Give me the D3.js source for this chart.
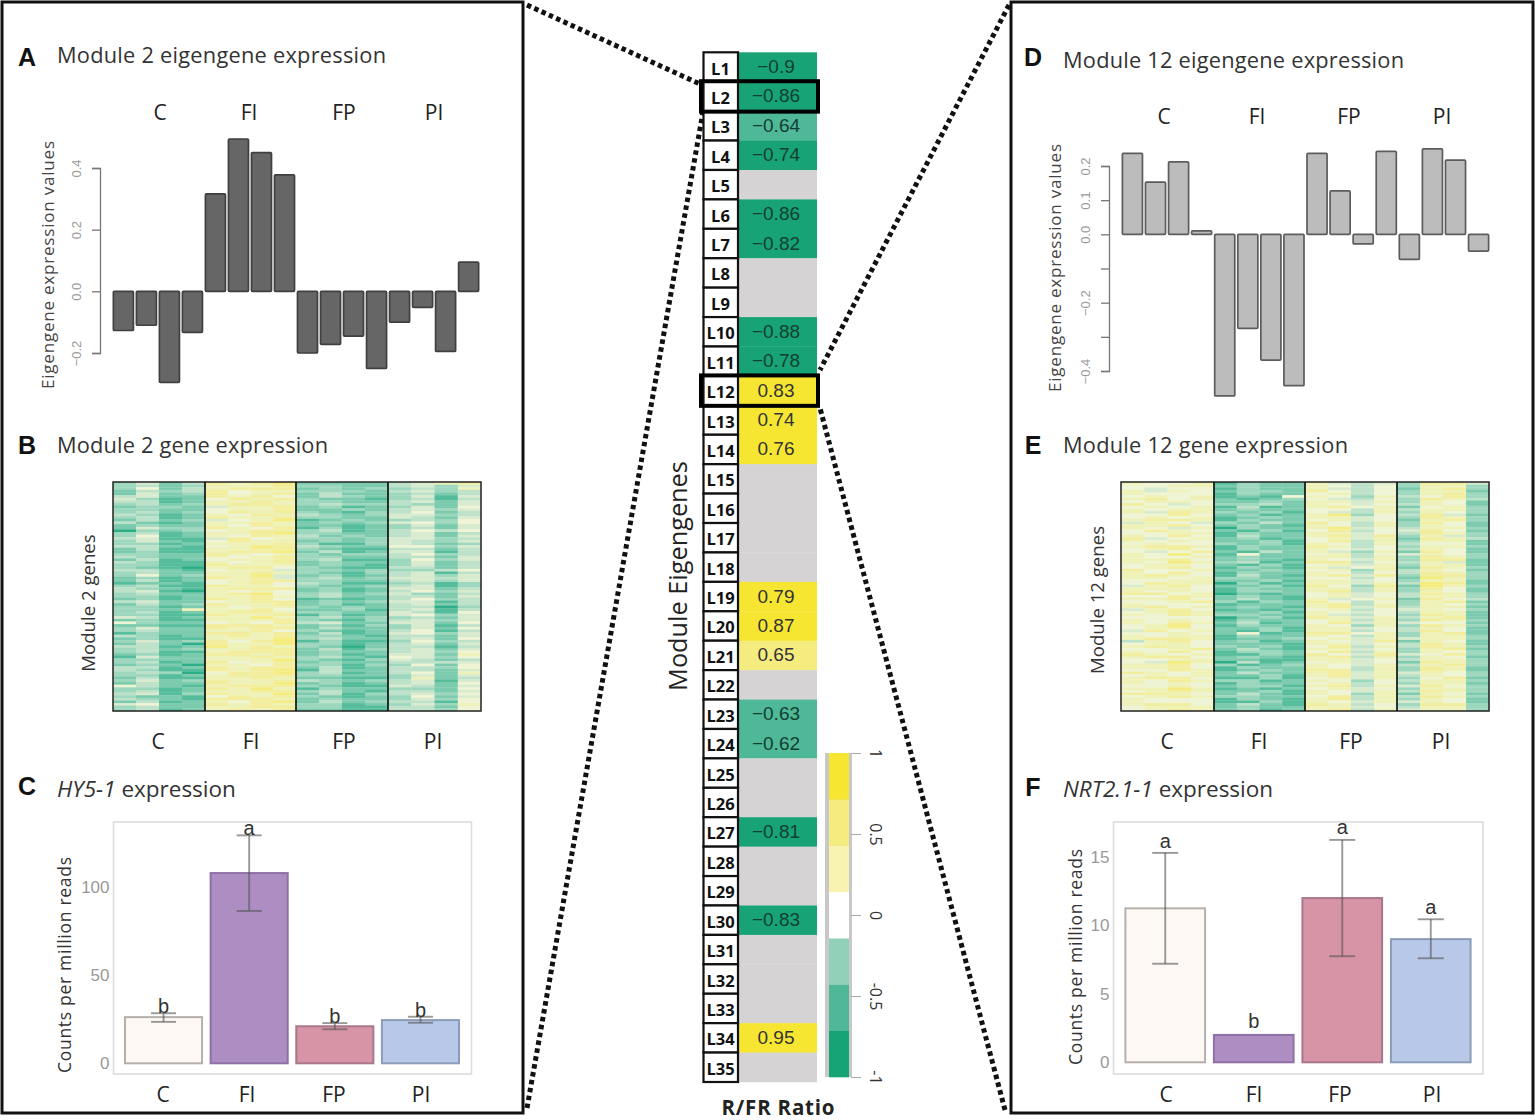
<!DOCTYPE html>
<html><head><meta charset="utf-8">
<script src="https://cdn.jsdelivr.net/npm/d3@7/dist/d3.min.js"></script>
<style>html,body{margin:0;background:#fff}svg{display:block}</style></head>
<body><svg id="c" width="1535" height="1120"></svg>
<script>
const groups=["C","FI","FP","PI"];
const rowNames=d3.range(1,36).map(i=>"L"+i);
const ratio=[-0.9,-0.86,-0.64,-0.74,null,-0.86,-0.82,null,null,-0.88,-0.78,0.83,0.74,0.76,null,null,null,null,0.79,0.87,0.65,null,-0.63,-0.62,null,null,-0.81,null,null,-0.83,null,null,null,0.95,null];
const binColors=["#18a376","#4fb898","#93d0ba","#ffffff","#f8f3b0","#f5ec80","#f6e632"];
const eigen2=[-0.127,-0.11,-0.295,-0.133,0.316,0.494,0.45,0.378,-0.2,-0.172,-0.145,-0.25,-0.10,-0.052,-0.195,0.095];
const eigen12=[0.237,0.153,0.212,0.01,-0.473,-0.275,-0.368,-0.443,0.237,0.127,-0.028,0.243,-0.073,0.25,0.217,-0.049];
const hy5={mean:[26.2,107.9,21,24.5],hi:[28.4,129.3,22.8,26.4],lo:[23.5,86.4,19.3,23],sig:["b","a","b","b"]};
const nrt={mean:[11.25,2.0,12,9.0],hi:[15.3,null,16.25,10.45],lo:[7.2,null,7.75,7.6],sig:["a","b","a","a"]};
const heat2A=`3524 8789 2222 4578|3624 7888 2323 3437|2434 8677 3332 4534|4522 8786 2432 3515|5312 6878 3221 3414|3423 7887 3433 4325|2332 5778 2312 3526|3423 6878 3213 4624|4312 7687 4323 5534|2423 5679 1232 3436|4212 7787 2323 5636|2533 8768 1312 3425|0323 6788 3412 4646|3612 7687 4232 4525|4511 5867 3323 5534|3312 7778 3113 5423|4421 6798 4322 6635|2311 7889 2412 5514|3322 8767 3233 4634|2412 6778 3411 3635|4311 7678 2322 3524|3210 7886 3211 4424|4421 6775 3323 3346|3623 7795 2312 4535|2312 8785 3423 5545|1221 6786 4311 3413|3411 8776 3223 4513|4510 7676 2312 4635|3422 7896 3423 5324|2312 8786 1212 4634|4522 6788 2323 5514|3312 7677 3232 4403|3327 7786 2231 4514|3311 8778 1312 5635|5412 7797 3423 3425|6322 6768 4522 5526|2211 8887 2313 3514|3422 7786 3212 4614|1322 8878 2412 5635|2311 7779 3422 4526|3523 8689 1311 3634|4412 9787 3202 4414|3423 7788 2413 4525|2312 8878 2312 5527|1522 7787 3421 6536|3412 8678 2322 4445|2320 7768 3313 3626|4311 8789 1422 4425|3430 6889 3412 4627|2411 7787 2211 3724|3523 8778 4323 4515|6421 7888 3211 5425|3312 8797 1322 3326|4513 8779 2413 4536|3221 6878 3212 3625|2412 7689 2423 4416|5622 8787 3312 3537|3412 7878 2211 4436`.split("|");
const heat2B=`3423 7778 3322 4535|2523 8678 2422 3424|4412 7787 3322 4525|3322 6778 2232 4535|3412 8778 3322 5425|2322 7687 2212 3525|3412 7789 3322 4524|3521 6877 2323 5435|2411 7788 3211 4424|4322 7678 3322 4425|3311 8777 2321 3524|3422 7787 3213 4514|2412 6788 3322 4535|4321 7888 2312 5524|3312 7787 3422 4425|2423 8778 2312 4524|3412 7887 3322 5416|2311 7778 3213 4535|3522 8788 2422 3526|4312 7878 3321 4425|2420 8779 3312 4525|3411 7888 2322 4536|3322 7779 3213 5424|4412 8788 2412 4436|3312 7888 3322 3525|2422 8779 2312 4526|3412 7788 3421 4425|4321 8887 2322 3536|3422 7788 3311 4426`.split("|");
const heat12A=`7667 1322 7545 3885|6566 1322 7546 2783|7576 2332 8646 3772|6767 1216 7637 4683|7867 2123 6546 3874|8656 3342 7656 4762|6767 1412 7867 2673|7587 3231 6547 3763|6686 2312 7936 4852|7887 1322 6756 2783|5765 3242 8647 3862|7657 0322 7956 4773|6876 2131 6846 5862|7686 1422 7858 3753|8567 2312 6757 2874|6766 3231 7647 4662|7887 1322 8746 3773|6568 2142 7537 2862|7696 1622 6746 5763|7786 2321 7657 3882|7697 3412 8846 4752|6786 1321 7567 2873|8667 2232 6737 4762|7876 1421 7858 3883|7767 3322 6646 2973|6877 0312 7757 4982|5786 2231 8638 2973|7676 1332 7847 3762|8867 0212 6756 4873|7786 2421 7567 2864|6678 3132 8646 3782|7867 2321 7857 4772|5786 1212 6746 5763|7687 3322 7546 3872|6666 0231 8757 4782|7687 2412 6857 5662|6796 1322 7637 3873|5867 2131 7746 4862|6676 2612 8867 3782|7887 1223 6757 5773|4786 2312 7658 2762|7876 3231 6847 4873|6678 2421 7756 3782|8767 1132 8658 5683|7886 2321 7847 3762|6597 0412 6756 2873|7786 3123 7657 4783|6687 1232 8847 3872|8767 2422 7857 5763|7886 1131 6757 3682|7687 3312 7636 4773|6676 2331 7847 5863|7797 1212 6756 3773|8876 2421 7637 2762|6787 3322 6847 4873|7666 1131 7657 5762|7886 2421 8746 3883|6787 2312 7847 5773`.split("|");
const heat12B=`6677 2322 7646 3773|7666 1322 6746 3783|6776 2232 7757 3762|7677 2322 6647 4773|6767 1232 7756 3873|7786 2321 7647 3762|6677 1322 7756 4873|7676 2231 6847 3772|6786 1322 7656 4762|7667 2322 7747 3873|6776 2131 6757 3772|7686 1322 7646 4873|6677 2231 7756 3772|7776 1322 7747 3862|6687 2321 6756 4773|7666 1222 7847 3763|6787 2231 7656 4772|7676 1322 6747 3873|6786 2231 7756 4762|7677 1322 7647 3773|6776 2221 7756 4872|7686 1332 6847 3763|6677 2211 7756 4773|7786 1322 7647 3872|6767 2231 7857 4763|7676 1322 6746 3772|6787 2231 7657 4873|7666 1321 7847 3762|6777 2322 7756 4773`.split("|");
// rows A and B alternate down the heatmap
function weave(a,b){const out=[];a.forEach((r,i)=>{out.push(r);if(i%2===0&&b[i/2])out.push(b[i/2]);});return out;}

const SANS='"Open Sans",sans-serif', ARIAL='"Liberation Sans",Arial,sans-serif';
const svg=d3.select("#c");
const defs=svg.append("defs");
defs.append("filter").attr("id","soft").attr("x","-5%").attr("y","-5%").attr("width","110%").attr("height","110%")
  .append("feGaussianBlur").attr("stdDeviation",0.6);

function txt(sel,x,y,s,o={}){
  const t=sel.append("text").attr("x",x).attr("y",y).text(s)
   .attr("font-family",o.font||SANS).attr("font-size",o.size||20).attr("fill",o.fill||"#222")
   .attr("text-anchor",o.anchor||"middle").attr("font-weight",o.weight||400).attr("dominant-baseline","central");
  if(o.rot!=null) t.attr("transform",`rotate(${o.rot} ${x} ${y})`);
  if(o.len) t.attr("textLength",o.len).attr("lengthAdjust","spacing");
  return t;
}
// dotted connectors
const dots=[[527,5,700,84],[527,1108,703,112],[1009,5,820,370],[1005,1110,820,408]];
svg.selectAll("line.dot").data(dots).join("line").attr("class","dot")
 .attr("x1",d=>d[0]).attr("y1",d=>d[1]).attr("x2",d=>d[2]).attr("y2",d=>d[3])
 .attr("stroke","#111").attr("stroke-width",5).attr("stroke-dasharray","4.5 3.5");
// panels
[[2,523],[1011,1533]].forEach(([a,b])=>svg.append("rect").attr("x",a).attr("y",2).attr("width",b-a).attr("height",1111)
  .attr("fill","#fff").attr("stroke","#111").attr("stroke-width",3));
svg.selectAll("line.dot").raise();

// ---- centre column
const rowY=d3.scaleBand().domain(rowNames).range([52.3,1082]);
const cellCol=d3.scaleQuantize().domain([-1,1]).range(binColors);
const mid=svg.append("g");
mid.selectAll("rect.cell").data(rowNames).join("rect").attr("class","cell")
 .attr("x",739).attr("width",78).attr("y",d=>rowY(d)).attr("height",rowY.bandwidth()+.3)
 .attr("fill",(d,i)=>ratio[i]==null?"#d5d3d3":cellCol(ratio[i]));
mid.selectAll("rect.lab").data(rowNames).join("rect").attr("class","lab")
 .attr("x",703.5).attr("width",34.5).attr("y",d=>rowY(d)).attr("height",rowY.bandwidth())
 .attr("fill","#fff").attr("stroke","#111").attr("stroke-width",2.2);
rowNames.forEach((n,i)=>{
  txt(mid,720.5,rowY(n)+rowY.bandwidth()/2+1,n,{size:16.5,weight:700,fill:"#111"});
  if(ratio[i]!=null) txt(mid,776,rowY(n)+rowY.bandwidth()/2-0.5,(ratio[i]<0?"\u2212":"")+Math.abs(ratio[i]),
    {font:ARIAL,size:19,fill:ratio[i]<0?"#123f30":"#333"});
});
["L2","L12"].forEach(n=>mid.append("rect").attr("x",701).attr("width",117).attr("y",rowY(n)-0.5).attr("height",rowY.bandwidth()+1)
  .attr("fill","none").attr("stroke","#000").attr("stroke-width",4));
txt(mid,677,576,"Module Eigengenes",{size:25.3,rot:-90,fill:"#222"});
txt(mid,778,1107,"R/FR Ratio",{size:20.5,weight:700,fill:"#222",len:113});

// colour bar
const cb=d3.scaleLinear().domain([-1,1]).range([1077,753]);
const cbg=svg.append("g");
cbg.append("rect").attr("x",825).attr("width",27).attr("y",cb(1)).attr("height",cb(-1)-cb(1)).attr("fill","#c8c8c8");
const binW=2/7;
cbg.append("g").attr("filter","url(#soft)").selectAll("rect").data(binColors).join("rect")
 .attr("x",829).attr("width",20)
 .attr("y",(d,i)=>cb(-1+binW*(i+1))).attr("height",cb(0)-cb(binW)+.3).attr("fill",d=>d);
const cbAxis=cbg.append("g").attr("transform","translate(851,0)")
 .call(d3.axisRight(cb).tickValues([-1,-0.5,0,0.5,1]).tickSize(10).tickFormat(d=>d));
cbAxis.select(".domain").remove();
cbAxis.selectAll("line").attr("stroke","#aaa");
cbAxis.selectAll("text").attr("font-family",SANS).attr("font-size",16).attr("fill","#333")
 .attr("x",0).attr("y",0).attr("dy",0).attr("text-anchor","middle").attr("dominant-baseline","central")
 .attr("transform","translate(25,0) rotate(90)");

// ---- eigengene bars
function eigen(vals,cfg){
  const y=d3.scaleLinear().domain(cfg.dom).range(cfg.rng);
  const x=d3.scaleBand().domain(d3.range(16)).range(cfg.xr).paddingInner(0.13).paddingOuter(0.06);
  const g=svg.append("g");
  g.append("g").attr("filter","url(#soft)").selectAll("rect").data(vals).join("rect")
   .attr("x",(d,i)=>x(i)).attr("width",x.bandwidth()).attr("rx",1)
   .attr("y",d=>y(Math.max(d,0))).attr("height",d=>Math.abs(y(d)-y(0)))
   .attr("fill",cfg.fill).attr("stroke",cfg.stroke).attr("stroke-width",1.7);
  const ax=g.append("g").attr("transform",`translate(${cfg.ax},0)`)
   .call(d3.axisLeft(y).tickValues(cfg.ticks).tickSize(8).tickFormat(d=>cfg.labels.includes(d)?d3.format(".1f")(d).replace("-","\u2212"):""));
  ax.selectAll(".domain,line").attr("stroke","#777").attr("stroke-width",1.3);
  ax.selectAll("text").attr("font-family",ARIAL).attr("font-size",13).attr("fill","#9a9a9a")
    .attr("x",0).attr("dy",0).attr("y",0).attr("text-anchor","middle").attr("dominant-baseline","central")
    .attr("transform","translate(-24,0) rotate(-90)");
  txt(g,cfg.lx,cfg.ly,"Eigengene  expression values",{size:17,rot:-90,fill:"#444",len:cfg.ll});
}
eigen(eigen2,{dom:[-0.2,0.4],rng:[353,168],xr:[112,480],fill:"#666",stroke:"#3f3f3f",ax:100,ticks:[-0.2,0,0.2,0.4],labels:[-0.2,0,0.2,0.4],lx:47,ly:265,ll:248});
eigen(eigen12,{dom:[-0.4,0.2],rng:[371,166],xr:[1121,1490],fill:"#bcbcbc",stroke:"#5c5c5c",ax:1109,ticks:[-0.4,-0.3,-0.2,-0.1,0,0.1,0.2],labels:[-0.4,-0.2,0,0.1,0.2],lx:1054,ly:268,ll:248});

// ---- heatmaps
const heatCol=d3.scaleLinear().domain([0,1,2,3,4,5,6,7,8,9])
  .range(["#2fae88","#55bd9c","#7bcbae","#9dd7be","#bde2c9","#d8ebcf","#eef4d4","#eff2b8","#f2ee9e","#f5ec80"]);
function heat(rows,cfg){
  const m=rows.map(r=>r.replace(/ /g,"").split("").map(Number));
  const y=d3.scaleBand().domain(d3.range(m.length)).range([cfg.y0,cfg.y1]);
  const cols=[];
  cfg.div.slice(0,-1).forEach((a,k)=>{const b=cfg.div[k+1];d3.range(4).forEach(j=>cols.push([a+(b-a)*j/4,(b-a)/4]));});
  const g=svg.append("g");
  const hm=g.append("g").attr("filter","url(#soft)");
  m.forEach((r,i)=>hm.selectAll(null).data(r).join("rect")
     .attr("x",(d,j)=>cols[j][0]).attr("width",(d,j)=>cols[j][1]+.3)
     .attr("y",y(i)).attr("height",y.bandwidth()+.3).attr("fill",d=>heatCol(d)));
  g.append("rect").attr("x",cfg.div[0]).attr("y",cfg.y0).attr("width",cfg.div[4]-cfg.div[0]).attr("height",cfg.y1-cfg.y0)
   .attr("fill","none").attr("stroke","#222").attr("stroke-width",1.5);
  cfg.div.slice(1,4).forEach(x=>g.append("line").attr("x1",x).attr("x2",x).attr("y1",cfg.y0).attr("y2",cfg.y1).attr("stroke","#111").attr("stroke-width",1.7));
  groups.forEach((n,i)=>txt(g,cfg.lab[i],741,n,{size:21}));
  txt(g,cfg.nx,cfg.ny,cfg.name,{size:18.6,rot:-90,fill:"#333"});
}
heat(weave(heat2A,heat2B),{y0:482,y1:711,div:[113,205,296,388,481],lab:[158,251,344,433],nx:87,ny:603,name:"Module 2 genes"});
heat(weave(heat12A,heat12B),{y0:482,y1:711,div:[1121,1214,1305,1397,1489],lab:[1167,1259,1351,1441],nx:1096,ny:600,name:"Module 12 genes"});

// ---- count bars
const barFill=["#fdf8f3","#ad8dc2","#d694a6","#b8c8e8"], barStroke=["#b5b0aa","#8e70a6","#a8778a","#8c9cb8"];
function counts(d,cfg){
  const y=d3.scaleLinear().domain(cfg.dom).range(cfg.rng);
  const x=d3.scaleBand().domain(groups).range(cfg.xr).paddingInner(0.1).paddingOuter(0.14);
  const g=svg.append("g");
  g.append("rect").attr("x",cfg.f[0]).attr("y",822).attr("width",cfg.f[1]-cfg.f[0]).attr("height",252)
   .attr("fill","#fff").attr("stroke","#dcdcdc").attr("stroke-width",1.6);
  g.selectAll("rect.b").data(groups).join("rect").attr("class","b")
   .attr("x",k=>x(k)).attr("width",x.bandwidth()).attr("y",(k,i)=>y(d.mean[i])).attr("height",(k,i)=>y(0)-y(d.mean[i]))
   .attr("fill",(k,i)=>barFill[i]).attr("stroke",(k,i)=>barStroke[i]).attr("stroke-width",2);
  const eb=g.append("g").attr("stroke","#555").attr("stroke-opacity",.6).attr("stroke-width",1.9);
  const L={font:ARIAL,size:20,fill:"#333",weight:400};
  groups.forEach((k,i)=>{
    if(d.hi[i]==null) return;
    const c=x(k)+x.bandwidth()/2;
    eb.append("line").attr("x1",c).attr("x2",c).attr("y1",y(d.hi[i])).attr("y2",y(d.lo[i]));
    [d.hi[i],d.lo[i]].forEach(v=>eb.append("line").attr("x1",c-cfg.cap).attr("x2",c+cfg.cap).attr("y1",y(v)).attr("y2",y(v)));
    txt(g,c,y(d.hi[i])+cfg.sigOff[i],d.sig[i],L);
  });
  groups.forEach((k,i)=>{ if(d.hi[i]==null) txt(g,x(k)+x.bandwidth()/2,y(d.mean[i])-14,d.sig[i],L);
    txt(g,cfg.lab[i],1094,k,{size:21}); });
  const ax=g.append("g").attr("transform",`translate(${cfg.f[0]},0)`).call(d3.axisLeft(y).tickValues(cfg.ticks).tickSize(0).tickPadding(4));
  ax.select(".domain").remove();
  ax.selectAll("text").attr("font-family",ARIAL).attr("font-size",17).attr("fill","#999");
  txt(g,cfg.lx,cfg.ly,"Counts per million reads",{size:17.5,rot:-90,fill:"#333",len:cfg.ll});
}
counts(hy5,{dom:[0,100],rng:[1063.3,887],xr:[113,471],f:[113.5,471.5],cap:12.5,ticks:[0,50,100],lab:[163,247,334,421],lx:64,ly:965,ll:216,sigOff:[-7,-7,-7,-7]});
counts(nrt,{dom:[0,15],rng:[1062.3,857],xr:[1113,1483],f:[1113.5,1483],cap:13,ticks:[0,5,10,15],lab:[1166,1254,1340,1432],lx:1075,ly:957,ll:216,sigOff:[-12,0,-13,-12]});

// ---- titles
[["A",27,57],["B",27,445],["C",27,786],["D",1033,57],["E",1033,445],["F",1033,787]].forEach(a=>txt(svg,a[1],a[2],a[0],{font:ARIAL,size:25,weight:700,fill:"#111"}));
const T={size:21.8,anchor:"start",fill:"#333"};
txt(svg,57,54.5,"Module 2 eigengene expression",{...T,len:329});
txt(svg,57,444.5,"Module 2 gene expression",{...T,len:271});
txt(svg,1063,59.5,"Module 12 eigengene expression",{...T,len:341});
txt(svg,1063,444.5,"Module 12 gene expression",{...T,len:285});
function ital(x,y,a,b){const t=txt(svg,x,y,"",{size:22.5,anchor:"start",fill:"#333"});
  t.append("tspan").attr("font-style","italic").text(a); t.append("tspan").text(b);}
ital(57,787.5,"HY5-1"," expression");
ital(1063,787.5,"NRT2.1-1"," expression");
[[160,249,344,434],[1164,1257,1349,1442]].forEach((xs,k)=>groups.forEach((n,i)=>txt(svg,xs[i],k?116:112,n,{size:21})));
</script></body></html>
